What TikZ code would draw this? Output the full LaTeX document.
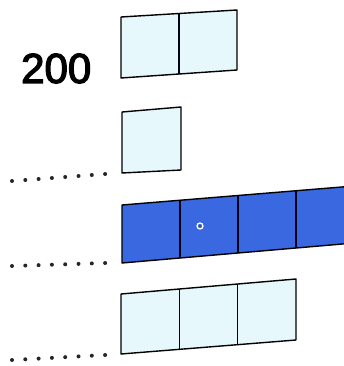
\documentclass[tikz,border=0pt]{standalone}
\usepackage{fontspec}
\setmainfont{Liberation Sans}
\newfontfamily\numfont[FakeBold=3]{Liberation Sans}
\usetikzlibrary{calc}
\definecolor{lightcell}{RGB}{230,248,251}
\definecolor{bluecell}{RGB}{58,104,224}
\tikzset{
  cell/.style={draw=black, line width=1.4pt, line join=round},
  divider/.style={draw=black!90!blue, line width=1.2pt},
  dotmark/.style={fill=black!85, draw=none},
}
\begin{document}
\begin{tikzpicture}[x=1pt,y=-1pt]
\useasboundingbox (0,0) rectangle (344,366);
\clip (0,0) rectangle (344,366);
% label
\node[font=\numfont\fontsize{42}{42}\selectfont, inner sep=0pt, anchor=base west] (label) at (21,83) {200};
% row 1
\coordinate (a1) at (121,17); \coordinate (a2) at (237,10);
\coordinate (a3) at (237,70); \coordinate (a4) at (121,78);
\fill[lightcell] (a1) -- (a2) -- (a3) -- (a4) -- cycle;
\draw[divider] ($(a1)!0.5!(a2)$) -- ($(a4)!0.5!(a3)$);
\draw[cell] (a1) -- (a2) -- (a3) -- (a4) -- cycle;
% row 2
\coordinate (b1) at (122,112); \coordinate (b2) at (181,107);
\coordinate (b3) at (181,170); \coordinate (b4) at (122,173);
\fill[lightcell] (b1) -- (b2) -- (b3) -- (b4) -- cycle;
\draw[cell] (b1) -- (b2) -- (b3) -- (b4) -- cycle;
% blue row
\coordinate (c1) at (122,205); \coordinate (c2) at (354,186);
\coordinate (c3) at (354,243); \coordinate (c4) at (122,263);
\fill[bluecell] (c1) -- (c2) -- (c3) -- (c4) -- cycle;
\foreach \t in {0.25,0.5,0.75}{
  \draw[divider] ($(c1)!\t!(c2)$) -- ($(c4)!\t!(c3)$);
}
\draw[cell] (c2) -- (c1) -- (c4) -- (c3);
\draw[white, line width=1.3pt] (200,226) circle (3);
\fill[black!70] (200,226) circle (1.4);
% row 3
\coordinate (d1) at (121,294); \coordinate (d2) at (296,279);
\coordinate (d3) at (296,340); \coordinate (d4) at (121,354);
\fill[lightcell] (d1) -- (d2) -- (d3) -- (d4) -- cycle;
\foreach \t in {0.3333,0.6667}{
  \draw[divider] ($(d1)!\t!(d2)$) -- ($(d4)!\t!(d3)$);
}
\draw[cell] (d1) -- (d2) -- (d3) -- (d4) -- cycle;
% dotted leaders
\foreach \y/\yy in {181/174, 266/263, 360/355}{
  \foreach \i in {0,...,7}{
    \fill[dotmark] ({12+\i*13.3},{\y+(\yy-\y)*\i/7}) circle (2);
  }
}
\end{tikzpicture}
\end{document}
